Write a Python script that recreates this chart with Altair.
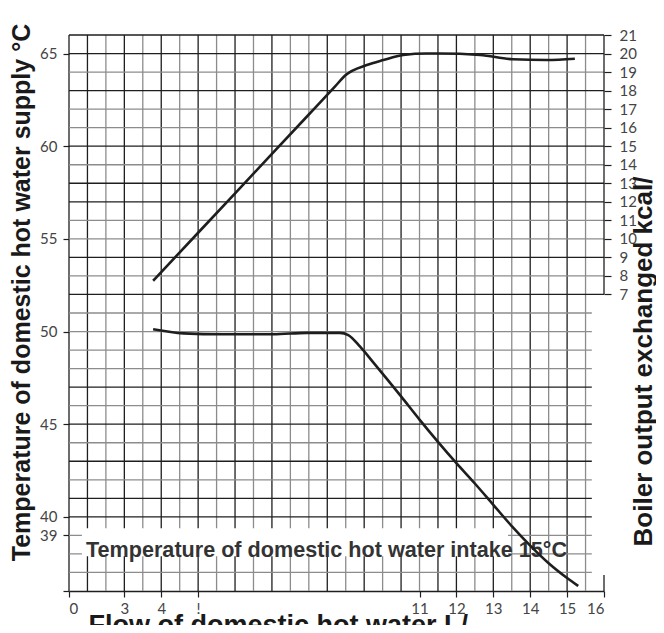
import altair as alt
import pandas as pd

# ---------------- data ----------------
# lower curve: temperature of domestic hot water supply (°C) vs flow (L/min)
flow_low = [3.78, 4.6, 5.68, 7.04, 7.94, 8.84, 9.07, 9.39, 9.74, 10.5, 11.0, 11.5, 12.0, 12.5, 13.0, 13.5, 14.0, 14.5, 15.0, 15.3]
temp_low = [50.12, 49.9, 49.85, 49.85, 49.93, 49.93, 49.81, 49.18, 48.35, 46.5, 45.25, 44.05, 42.9, 41.8, 40.65, 39.5, 38.45, 37.5, 36.7, 36.27]

# upper curve: boiler output exchanged (kcal/...) vs flow
flow_up = [3.78, 5.0, 6.5, 8.0, 8.7, 9.0, 9.57, 10.02, 10.56, 11.19, 11.55, 12.64, 13.53, 14.45, 15.21]
kcal_up = [7.74, 10.33, 13.52, 16.71, 18.2, 18.84, 19.38, 19.65, 19.92, 20.0, 20.0, 19.92, 19.69, 19.65, 19.72]

# axis ticks / labels
left_ticks = [65, 60, 55, 50, 45, 40, 39]
right_ticks = list(range(7, 22))
bottom_ticks = [1.5, 3, 4, 5, 11, 12, 13, 14, 15, 16]
bottom_labels = ["0", "3", "4", "!", "11", "12", "13", "14", "15", "16"]

# grid lines
v_lines = [1.5 + 0.5 * i for i in range(1, 29)]  # 2.0 .. 15.5
v_dark = [1, 0, 1, 0, 1, 0, 1, 0, 1, 0, 1, 0, 0, 1, 0, 1, 0, 1, 0, 1, 1, 0, 1, 0, 1, 0, 1, 0]
h_lines = list(range(37, 67))  # 37 .. 66
h_dark = [0, 0, 0, 1, 1, 0, 1, 0, 1, 0, 1, 0, 0, 0, 0, 1, 0, 1, 0, 0, 1, 1, 0, 1, 0, 0, 1, 0, 1, 1]

annotation = "Temperature of domestic hot water intake 15°C"
title_left = "Temperature of domestic hot water supply °C"
title_right = "Boiler output exchanged kcal/"
title_bottom = "Flow of domestic hot water L/"

KCAL_OFFSET = 45  # right axis value = left axis value - 45

DARK = "#1e1e1e"
GREY = "#8c8c8c"
LABEL_FONT = "Lato"
TITLE_FONT = "Liberation Sans"

XMIN, XMAX = 1.5, 16
YMIN, YMAX = 36, 66

xs = alt.Scale(domain=[XMIN, XMAX], nice=False, zero=False)
ys = alt.Scale(domain=[YMIN, YMAX], nice=False, zero=False)

# ---------------- grid ----------------
vdf = pd.DataFrame({
    "x": [XMIN] + v_lines,
    "y1": YMIN, "y2": YMAX,
    "c": [DARK] + [DARK if d else GREY for d in v_dark],
})
vgrid = alt.Chart(vdf).mark_rule(strokeWidth=1.3).encode(
    x=alt.X("x:Q", scale=xs, axis=None),
    y=alt.Y("y1:Q", scale=ys, axis=None),
    y2="y2:Q",
    color=alt.Color("c:N", scale=None),
)

hdf = pd.DataFrame({
    "y": h_lines,
    "x1": XMIN,
    "x2": [XMAX if h >= 52 else 15.67 for h in h_lines],
    "c": [DARK if d else GREY for d in h_dark],
})
hgrid = alt.Chart(hdf).mark_rule(strokeWidth=1.3).encode(
    y=alt.Y("y:Q", scale=ys, axis=None),
    x=alt.X("x1:Q", scale=xs, axis=None),
    x2="x2:Q",
    color=alt.Color("c:N", scale=None),
)

# short vertical pieces at x=16: right axis line (7..21 kcal) and bottom corner
sdf = pd.DataFrame({"x": [XMAX, XMAX], "y1": [YMIN, 7 + KCAL_OFFSET], "y2": [36.86, 21 + KCAL_OFFSET]})
side = alt.Chart(sdf).mark_rule(color=DARK, strokeWidth=1.3).encode(
    x=alt.X("x:Q", scale=xs, axis=None),
    y=alt.Y("y1:Q", scale=ys, axis=None),
    y2="y2:Q",
)

# white band behind the annotation
bdf = pd.DataFrame({"x1": [1.85], "x2": [13.4], "y1": [37.88], "y2": [39.39]})
band = alt.Chart(bdf).mark_rect(color="white").encode(
    x=alt.X("x1:Q", scale=xs, axis=None), x2="x2:Q",
    y=alt.Y("y1:Q", scale=ys, axis=None), y2="y2:Q",
)

ndf = pd.DataFrame({"x": [1.96], "y": [37.83], "t": [annotation]})
note = alt.Chart(ndf).mark_text(
    align="left", baseline="alphabetic", font=TITLE_FONT, fontSize=21.6,
    fontWeight="bold", color="#333333",
).encode(
    x=alt.X("x:Q", scale=xs, axis=None),
    y=alt.Y("y:Q", scale=ys, axis=None),
    text="t:N",
)

# ---------------- lower curve with left & bottom axes ----------------
expr = "datum.label"
for v, lab in zip(bottom_ticks[::-1], bottom_labels[::-1]):
    expr = f"datum.value == {v} ? '{lab}' : ({expr})"

low_df = pd.DataFrame({"flow": flow_low, "temp": temp_low})
lower = alt.Chart(low_df).mark_line(color=DARK, strokeWidth=2.6, interpolate="monotone").encode(
    x=alt.X("flow:Q", scale=xs, axis=alt.Axis(
        orient="bottom",
        values=bottom_ticks, labelExpr=expr, tickSize=6, tickColor=DARK, tickWidth=1.2,
        domain=True, domainColor=DARK, domainWidth=1.4, grid=False,
        labelFont=LABEL_FONT, labelFontSize=15, labelColor="#444444", labelPadding=4,
        title=title_bottom, titleFont=TITLE_FONT, titleFontSize=27, titleFontWeight="bold",
        titleColor="#1a1a1a", titleAngle=0, titleAlign="left", titleBaseline="alphabetic",
        titleX=19, titleY=42,
    )),
    y=alt.Y("temp:Q", scale=ys, axis=alt.Axis(
        orient="left",
        values=left_ticks + [36], labelExpr="datum.value == 36 ? '' : datum.label",
        tickSize=6, tickColor=DARK, tickWidth=1.2, domain=False, grid=False,
        labelFont=LABEL_FONT, labelFontSize=15, labelColor="#444444", labelPadding=6,
        title=title_left, titleFont=TITLE_FONT, titleFontSize=25, titleFontWeight="bold",
        titleColor="#1a1a1a", titleAngle=270, titleAlign="center", titleBaseline="middle",
        titleX=-48, titleY=257,
    )),
)

# ---------------- upper curve with right axis ----------------
up_df = pd.DataFrame({"flow": flow_up, "kcal": kcal_up})
right_expr = f"format(datum.value - {KCAL_OFFSET}, 'd')"
upper = alt.Chart(up_df).transform_calculate(
    t=f"datum.kcal + {KCAL_OFFSET}"
).mark_line(color=DARK, strokeWidth=2.6, interpolate="monotone").encode(
    x=alt.X("flow:Q", scale=xs, axis=None),
    y=alt.Y("t:Q", scale=ys, axis=alt.Axis(
        orient="right", values=[v + KCAL_OFFSET for v in right_ticks], labelExpr=right_expr,
        tickSize=7, tickColor=DARK, tickWidth=1.2,
        domain=False, grid=False, labelFont=LABEL_FONT, labelFontSize=15,
        labelColor="#444444", labelPadding=8,
        title=title_right, titleFont=TITLE_FONT, titleFontSize=26, titleFontWeight="bold",
        titleColor="#1a1a1a", titleAngle=270, titleAlign="center", titleBaseline="middle",
        titleX=39, titleY=326,
    )),
)

chart = alt.layer(vgrid, hgrid, side, band, note, lower, upper).resolve_axis(
    x="independent", y="independent"
).properties(
    width=535, height=556,
    padding={"left": 61, "top": 27, "right": 52, "bottom": 34},
    autosize=alt.AutoSizeParams(type="none"),
    background="white",
).configure_view(stroke=None)

chart.save("out.html", embed_options={"renderer": "svg", "actions": False})
